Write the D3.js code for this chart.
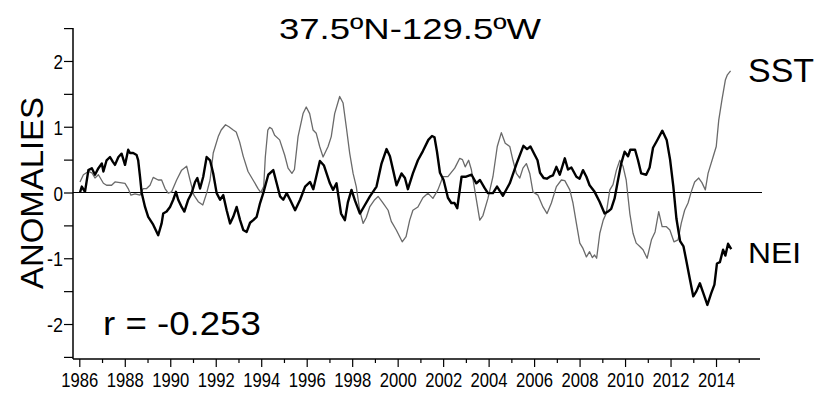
<!DOCTYPE html>
<html>
<head>
<meta charset="utf-8">
<script src="https://cdn.jsdelivr.net/npm/d3@7"></script>
<style>
	body { margin: 0; background: #fff; }
	svg { display: block; }
	text { font-family: "Liberation Sans", Arial, sans-serif; fill: #000; }
	.tick text { font-family: "Liberation Sans Narrow", "Liberation Sans", Arial, sans-serif; }
</style>
</head>
<body>
<script>
// NEI index (decimal year, anomaly)
var neiYears = [1986.03,1986.11,1986.25,1986.40,1986.55,1986.69,1986.84,1986.99,1987.06,1987.20,1987.35,1987.47,1987.57,1987.72,1987.86,1988.01,1988.15,1988.23,1988.37,1988.52,1988.59,1988.67,1988.74,1988.89,1989.03,1989.25,1989.47,1989.62,1989.69,1989.84,1989.99,1990.13,1990.25,1990.35,1990.50,1990.62,1990.79,1990.94,1991.09,1991.19,1991.31,1991.45,1991.60,1991.75,1991.89,1992.04,1992.19,1992.33,1992.48,1992.63,1992.77,1992.92,1993.07,1993.21,1993.36,1993.51,1993.65,1993.80,1993.95,1994.09,1994.31,1994.53,1994.68,1994.83,1994.97,1995.12,1995.27,1995.49,1995.71,1995.93,1996.15,1996.29,1996.58,1996.76,1997.02,1997.16,1997.31,1997.51,1997.68,1997.81,1997.97,1998.12,1998.34,1998.56,1998.78,1999.07,1999.29,1999.51,1999.66,1999.80,1999.95,2000.17,2000.32,2000.45,2000.67,2000.89,2001.11,2001.35,2001.51,2001.62,2001.73,2001.86,2002.02,2002.21,2002.36,2002.50,2002.62,2002.81,2003.01,2003.25,2003.46,2003.62,2003.82,2003.97,2004.19,2004.37,2004.63,2004.93,2005.23,2005.53,2005.69,2005.84,2006.03,2006.15,2006.26,2006.42,2006.56,2006.69,2006.83,2006.98,2007.13,2007.35,2007.49,2007.64,2007.86,2008.00,2008.15,2008.30,2008.44,2008.66,2008.88,2009.10,2009.25,2009.39,2009.54,2009.69,2009.83,2009.98,2010.13,2010.23,2010.44,2010.57,2010.71,2010.93,2011.08,2011.23,2011.39,2011.64,2011.83,2011.98,2012.12,2012.26,2012.42,2012.57,2012.69,2012.84,2013.00,2013.14,2013.29,2013.43,2013.62,2013.79,2013.93,2014.04,2014.17,2014.31,2014.41,2014.53,2014.67];
var neiValues = [0.00,0.09,0.01,0.34,0.37,0.27,0.37,0.44,0.32,0.49,0.54,0.47,0.42,0.54,0.59,0.42,0.65,0.60,0.60,0.57,0.49,0.24,0.00,-0.22,-0.37,-0.49,-0.65,-0.47,-0.32,-0.29,-0.22,-0.11,0.01,-0.11,-0.22,-0.29,-0.11,-0.01,0.16,0.22,0.06,0.24,0.54,0.49,0.29,-0.01,-0.11,-0.04,-0.27,-0.47,-0.37,-0.22,-0.42,-0.57,-0.60,-0.46,-0.42,-0.37,-0.16,-0.01,0.27,0.34,0.14,-0.06,-0.11,-0.01,-0.11,-0.27,-0.11,0.09,0.16,0.05,0.48,0.41,0.14,0.04,0.14,-0.32,-0.42,-0.15,0.04,-0.12,-0.32,-0.19,-0.06,0.09,0.44,0.66,0.55,0.34,0.11,0.29,0.22,0.05,0.29,0.49,0.63,0.80,0.86,0.84,0.62,0.30,0.19,-0.08,-0.16,-0.16,-0.24,0.24,0.24,0.27,0.14,0.19,0.07,-0.01,-0.01,0.09,-0.05,0.14,0.44,0.71,0.66,0.70,0.57,0.49,0.30,0.22,0.21,0.24,0.26,0.39,0.27,0.52,0.35,0.38,0.24,0.21,0.34,0.24,0.11,0.01,-0.14,-0.32,-0.29,-0.25,-0.09,0.19,0.44,0.62,0.55,0.65,0.65,0.49,0.29,0.27,0.38,0.68,0.78,0.94,0.80,0.50,0.10,-0.40,-0.74,-0.82,-1.03,-1.30,-1.58,-1.50,-1.38,-1.52,-1.71,-1.53,-1.40,-1.08,-1.06,-0.87,-0.96,-0.78,-0.86];

// SST anomaly
var sstYears = [1986.03,1986.18,1986.40,1986.55,1986.69,1986.84,1987.06,1987.20,1987.42,1987.57,1987.79,1988.01,1988.15,1988.27,1988.45,1988.67,1988.81,1988.96,1989.11,1989.25,1989.47,1989.62,1989.77,1989.91,1990.06,1990.28,1990.50,1990.72,1990.87,1991.04,1991.23,1991.43,1991.60,1991.75,1991.89,1992.11,1992.24,1992.43,1992.58,1992.77,1992.90,1993.05,1993.21,1993.42,1993.64,1993.86,1993.98,1994.11,1994.18,1994.29,1994.37,1994.47,1994.59,1994.81,1995.03,1995.18,1995.35,1995.46,1995.62,1995.84,1995.98,1996.13,1996.28,1996.42,1996.57,1996.72,1996.94,1997.08,1997.23,1997.45,1997.60,1997.74,1997.89,1998.04,1998.18,1998.33,1998.48,1998.62,1998.77,1998.99,1999.14,1999.36,1999.58,1999.72,1999.94,2000.20,2000.37,2000.53,2000.67,2000.89,2001.11,2001.33,2001.55,2001.77,2001.99,2002.21,2002.51,2002.73,2002.85,2002.97,2003.12,2003.24,2003.39,2003.61,2003.75,2003.97,2004.19,2004.38,2004.56,2004.73,2004.93,2005.07,2005.22,2005.37,2005.51,2005.66,2005.81,2005.95,2006.17,2006.39,2006.57,2006.76,2006.98,2007.20,2007.35,2007.57,2007.71,2007.86,2008.01,2008.15,2008.30,2008.44,2008.56,2008.66,2008.75,2008.89,2009.04,2009.17,2009.33,2009.47,2009.62,2009.77,2009.91,2010.05,2010.21,2010.35,2010.49,2010.65,2010.79,2010.97,2011.16,2011.32,2011.48,2011.63,2011.82,2011.97,2012.15,2012.33,2012.47,2012.62,2012.77,2012.91,2013.06,2013.24,2013.38,2013.53,2013.65,2013.87,2014.01,2014.12,2014.26,2014.41,2014.50,2014.64];
var sstValues = [0.16,0.27,0.32,0.30,0.22,0.27,0.14,0.11,0.11,0.16,0.15,0.14,0.06,-0.04,-0.02,-0.04,0.06,0.06,0.11,0.23,0.19,0.19,0.06,-0.01,0.01,0.19,0.34,0.40,0.19,-0.04,-0.14,-0.19,-0.01,0.19,0.60,0.85,0.95,1.03,1.00,0.95,0.92,0.77,0.55,0.32,0.19,0.06,0.00,0.09,0.54,0.95,0.99,0.97,0.87,0.80,0.57,0.37,0.29,0.35,0.85,1.20,1.30,1.20,0.95,0.90,0.70,0.54,0.70,0.85,1.20,1.46,1.36,1.00,0.60,0.29,0.09,-0.27,-0.47,-0.38,-0.22,-0.11,-0.06,-0.16,-0.27,-0.44,-0.57,-0.75,-0.67,-0.42,-0.27,-0.22,-0.08,-0.01,-0.09,0.04,0.24,0.24,0.37,0.52,0.50,0.39,0.49,0.35,0.04,-0.42,-0.35,-0.09,0.24,0.70,0.91,0.75,0.70,0.49,0.29,0.22,0.37,0.44,0.29,0.01,-0.04,-0.22,-0.32,-0.16,0.09,0.19,0.18,0.04,-0.16,-0.47,-0.77,-0.85,-0.98,-0.90,-0.99,-0.95,-1.00,-0.62,-0.42,-0.32,0.04,0.12,0.34,0.49,0.40,0.19,-0.32,-0.62,-0.77,-0.82,-0.87,-1.00,-0.72,-0.60,-0.29,-0.52,-0.52,-0.57,-0.75,-0.72,-0.47,-0.27,-0.16,0.01,0.16,0.22,0.15,0.04,0.29,0.54,0.70,1.10,1.41,1.71,1.79,1.85];

var yTicks = [-2.5,-2,-1.5,-1,-0.5,0,0.5,1,1.5,2,2.5];
var yLabels = ["2","1","0","-1","-2"];
var xTicks = d3.range(1986, 2016);
var title = "37.5ºN-129.5ºW";
var corr = "r = -0.253";

var width = 818, height = 393;
var svg = d3.select("body").append("svg").attr("width", width).attr("height", height);

var x = d3.scaleLinear().domain([1986, 2016]).range([79.3, 761.5]);
var y = d3.scaleLinear().domain([-2.5, 2.5]).range([356.9, 28.1]);
var axisX = 73, axisY = 359;

function pairs(ys, vs) { return ys.map(function (d, i) { return [d, vs[i]]; }); }

// y axis
var gy = svg.append("g").attr("transform", "translate(" + axisX + ",0)")
	.call(d3.axisLeft(y).tickValues(yTicks).tickSize(9).tickPadding(1)
		.tickFormat(function (d) { return yLabels.indexOf(String(d)) != -1 ? String(d) : ""; }));
gy.select(".domain").attr("d", "M0," + y(2.5) + "V" + axisY);
gy.selectAll("line").attr("stroke", "#000").attr("stroke-width", 1.2);
gy.selectAll("text").attr("font-size", 21).attr("dy", "0.36em")
	.filter(function (d) { return yLabels.indexOf(String(d)) != -1; })
	.attr("textLength", function (d) { return d < 0 ? 16 : 9.5; })
	.attr("lengthAdjust", "spacingAndGlyphs");

// x axis
var gx = svg.append("g").attr("transform", "translate(0," + axisY + ")")
	.call(d3.axisBottom(x).tickValues(xTicks).tickSize(8).tickPadding(5)
		.tickFormat(function (d) { return d % 2 == 0 ? String(d) : ""; }));
gx.select(".domain").attr("d", "M" + axisX + ",0H760");
gx.selectAll(".tick line").attr("y2", function (d) { return d % 2 == 0 ? 8 : 4; });
gx.selectAll("line").attr("stroke", "#000").attr("stroke-width", 1.2);
gx.selectAll("text").attr("font-size", 21)
	.filter(function (d) { return d % 2 == 0; })
	.attr("textLength", 37).attr("lengthAdjust", "spacingAndGlyphs");
svg.selectAll(".domain").attr("stroke", "#000").attr("stroke-width", 1.5);

// zero line
svg.append("line").attr("x1", axisX).attr("x2", 762).attr("y1", y(0)).attr("y2", y(0))
	.attr("stroke", "#000").attr("stroke-width", 1);

var line = d3.line().x(function (d) { return x(d[0]); }).y(function (d) { return y(d[1]); });

svg.append("path").datum(pairs(sstYears, sstValues)).attr("d", line)
	.attr("fill", "none").attr("stroke", "#6a6a6a").attr("stroke-width", 1.3).attr("stroke-linejoin", "round");
svg.append("path").datum(pairs(neiYears, neiValues)).attr("d", line)
	.attr("fill", "none").attr("stroke", "#000").attr("stroke-width", 2.4).attr("stroke-linejoin", "round");

// texts
svg.append("text").attr("x", 410).attr("y", 39).attr("text-anchor", "middle").attr("font-size", 30)
	.attr("textLength", 262).attr("lengthAdjust", "spacingAndGlyphs").text(title);
svg.append("text").attr("x", 748).attr("y", 82).attr("font-size", 34).attr("textLength", 66).attr("lengthAdjust", "spacingAndGlyphs").text("SST");
svg.append("text").attr("x", 748).attr("y", 263).attr("font-size", 30).attr("textLength", 53).attr("lengthAdjust", "spacingAndGlyphs").text("NEI");
svg.append("text").attr("x", 103).attr("y", 335).attr("font-size", 33)
	.attr("textLength", 158).attr("lengthAdjust", "spacingAndGlyphs").text(corr);
svg.append("text").attr("transform", "translate(43,193) rotate(-90)").attr("text-anchor", "middle")
	.attr("font-size", 32).attr("textLength", 192).attr("lengthAdjust", "spacingAndGlyphs").text("ANOMALIES");
</script>
</body>
</html>
